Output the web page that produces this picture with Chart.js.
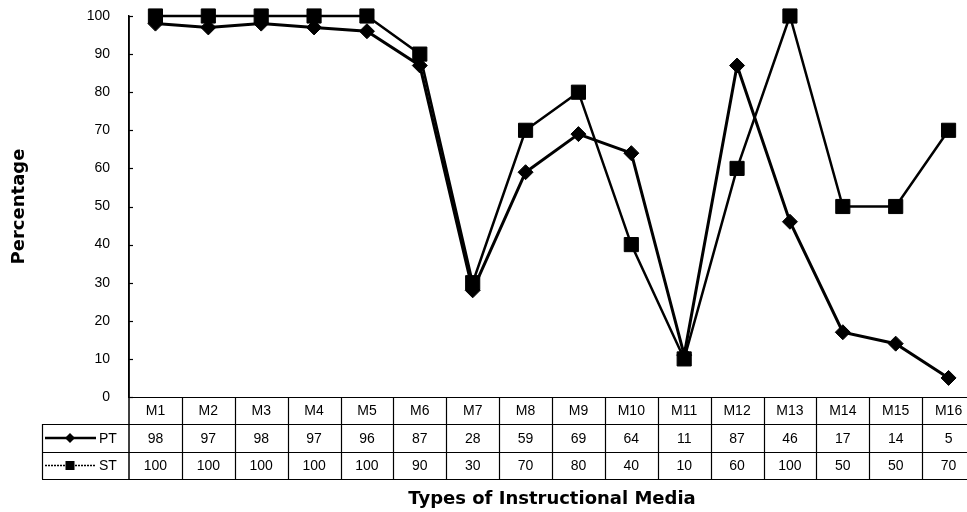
<!DOCTYPE html>
<html>
<head>
<meta charset="utf-8">
<title>Types of Instructional Media</title>
<script src="https://cdn.jsdelivr.net/npm/chart.js@4/dist/chart.umd.min.js"></script>
<style>
  html, body { margin: 0; padding: 0; background: #fff; overflow: hidden; }
  #wrap { position: relative; width: 967px; height: 512px; overflow: hidden; }
  canvas { display: block; position: absolute; left: 0; top: 0; }
</style>
</head>
<body>
<div id="wrap"><canvas id="c" width="975" height="512"></canvas></div>
<script>
// Instructional media categories
const categories = ['M1','M2','M3','M4','M5','M6','M7','M8','M9','M10','M11','M12','M13','M14','M15','M16'];
// Percentage values per group
const ptValues = [98, 97, 98, 97, 96, 87, 28, 59, 69, 64, 11, 87, 46, 17, 14, 5];
const stValues = [100, 100, 100, 100, 100, 90, 30, 70, 80, 40, 10, 60, 100, 50, 50, 70];
const seriesNames = ['PT', 'ST'];
// Y axis range and step
const yMin = 0, yMax = 100, yStep = 10;

const TABLE_FONT = '14px "Liberation Sans", Arial, sans-serif';
const TITLE_FONT = { family: '"DejaVu Sans", sans-serif', size: 18, weight: 'bold' };

function noScalePadding(scale) {
  scale.paddingLeft = 0;
  scale.paddingRight = 0;
  scale.paddingTop = 0;
  scale.paddingBottom = 0;
}

// Data table under the plot, with inward y ticks and the legend column
const dataTable = {
  id: 'dataTable',
  afterDraw(chart) {
    const ctx = chart.ctx;
    const xs = chart.scales.x;
    const ys = chart.scales.y;
    const area = chart.chartArea;
    const half = (xs.getPixelForValue(1) - xs.getPixelForValue(0)) / 2;
    const rows = [area.bottom, area.bottom + 27, area.bottom + 55, area.bottom + 82];
    const legendLeft = 42;
    const right = xs.getPixelForValue(categories.length - 1) + half;

    ctx.save();
    ctx.strokeStyle = '#000';

    // inward tick marks on the y axis
    ctx.lineWidth = 1.2;
    ys.ticks.forEach(t => {
      const y = Math.round(ys.getPixelForValue(t.value)) + 0.5;
      ctx.beginPath();
      ctx.moveTo(area.left, y);
      ctx.lineTo(area.left + 4, y);
      ctx.stroke();
    });

    // y axis line continues through the table
    ctx.lineWidth = 1.5;
    ctx.beginPath();
    ctx.moveTo(area.left, ys.getPixelForValue(yMax));
    ctx.lineTo(area.left, rows[3]);
    ctx.stroke();

    // horizontal rules
    ctx.lineWidth = 1.2;
    ctx.beginPath();
    ctx.moveTo(area.left, rows[0] + 0.5);
    ctx.lineTo(right, rows[0] + 0.5);
    for (let r = 1; r < rows.length; r++) {
      ctx.moveTo(legendLeft, rows[r] + 0.5);
      ctx.lineTo(right, rows[r] + 0.5);
    }
    // vertical rules
    ctx.moveTo(legendLeft + 0.5, rows[1]);
    ctx.lineTo(legendLeft + 0.5, rows[3]);
    categories.forEach((c, i) => {
      const x = Math.round(xs.getPixelForValue(i) + half) + 0.5;
      ctx.moveTo(x, rows[0]);
      ctx.lineTo(x, rows[3]);
    });
    ctx.stroke();

    // cell texts
    ctx.fillStyle = '#000';
    ctx.font = TABLE_FONT;
    ctx.textAlign = 'center';
    ctx.textBaseline = 'middle';
    const mid = k => (rows[k] + rows[k + 1]) / 2 + 1;
    categories.forEach((c, i) => {
      const x = xs.getPixelForValue(i);
      ctx.fillText(c, x, mid(0));
      ctx.fillText(String(ptValues[i]), x, mid(1));
      ctx.fillText(String(stValues[i]), x, mid(2));
    });

    // legend keys
    const keyX0 = 45, keyX1 = 96, keyMid = 70;
    let y = mid(1) - 1;
    ctx.lineWidth = 2.5;
    ctx.beginPath();
    ctx.moveTo(keyX0, y); ctx.lineTo(keyX1, y);
    ctx.stroke();
    ctx.beginPath();
    ctx.moveTo(keyMid, y - 5); ctx.lineTo(keyMid + 5, y); ctx.lineTo(keyMid, y + 5); ctx.lineTo(keyMid - 5, y);
    ctx.closePath();
    ctx.fill();
    y = mid(2) - 1;
    ctx.lineWidth = 1.5;
    ctx.setLineDash([2, 1]);
    ctx.beginPath();
    ctx.moveTo(keyX0, y); ctx.lineTo(keyX1, y);
    ctx.stroke();
    ctx.setLineDash([]);
    ctx.fillRect(keyMid - 4.5, y - 4.5, 9, 9);

    ctx.textAlign = 'left';
    ctx.fillText(seriesNames[0], 99, mid(1));
    ctx.fillText(seriesNames[1], 99, mid(2));
    ctx.restore();
  }
};

new Chart(document.getElementById('c'), {
  type: 'line',
  data: {
    labels: categories,
    datasets: [
      {
        label: seriesNames[0],
        data: ptValues,
        borderColor: '#000',
        backgroundColor: '#000',
        borderWidth: 3,
        pointStyle: 'rectRot',
        pointRadius: 7.5,
        pointBorderWidth: 1,
        tension: 0,
        clip: false
      },
      {
        label: seriesNames[1],
        data: stValues,
        borderColor: '#000',
        backgroundColor: '#000',
        borderWidth: 2.5,
        pointStyle: 'rect',
        pointRadius: 10,
        pointBorderWidth: 1,
        tension: 0,
        clip: false
      }
    ]
  },
  options: {
    responsive: false,
    animation: false,
    events: [],
    layout: { autoPadding: false, padding: { top: 16, left: 0, right: 0, bottom: 0 } },
    plugins: { legend: { display: false }, tooltip: { enabled: false } },
    scales: {
      x: {
        type: 'category',
        offset: true,
        grid: { display: false },
        border: { display: false },
        ticks: { display: false },
        title: {
          display: true,
          text: 'Types of Instructional Media',
          color: '#000',
          font: TITLE_FONT,
          padding: { top: 0, bottom: 2 }
        },
        afterFit(scale) { scale.height = 115; noScalePadding(scale); }
      },
      y: {
        min: yMin,
        max: yMax,
        grid: { display: false },
        border: { display: true, color: '#000', width: 1.5 },
        ticks: {
          stepSize: yStep,
          color: '#000',
          padding: 11,
          font: { family: '"Liberation Sans", Arial, sans-serif', size: 14 }
        },
        title: {
          display: true,
          text: 'Percentage',
          color: '#000',
          font: TITLE_FONT,
          padding: { top: 9, bottom: 0 }
        },
        afterFit(scale) { scale.width = 129; noScalePadding(scale); }
      }
    }
  },
  plugins: [dataTable]
});
</script>
</body>
</html>
